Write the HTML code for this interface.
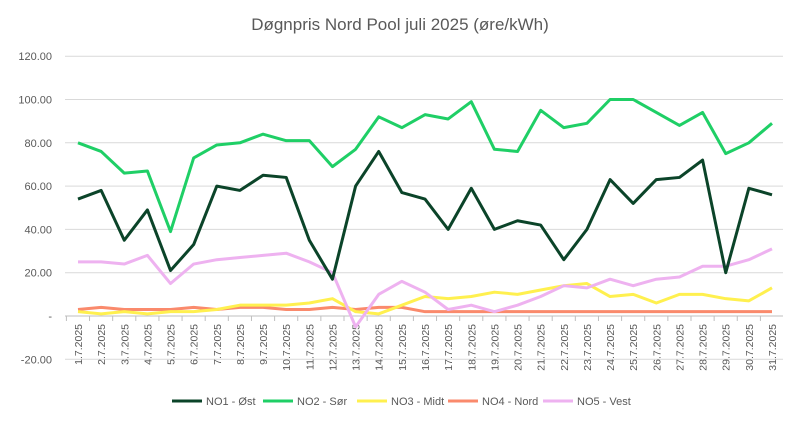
<!DOCTYPE html>
<html><head><meta charset="utf-8"><style>
body{margin:0;background:#fff;font-family:"Liberation Sans",sans-serif;}
</style></head><body>
<svg id="c" width="800" height="423" xmlns="http://www.w3.org/2000/svg"></svg>
<script>
const categories=[];for(let d=1;d<=31;d++)categories.push(d+'.7.2025');
const no1=[54,58,35,49,21,33,60,58,65,64,35,17,60,76,57,54,40,59,40,44,42,26,40,63,52,63,64,72,20,59,56];
const no2=[80,76,66,67,39,73,79,80,84,81,81,69,77,92,87,93,91,99,77,76,95,87,89,100,100,94,88,94,75,80,89];
const no3=[2,1,2,1,2,2,3,5,5,5,6,8,2,1,5,9,8,9,11,10,12,14,15,9,10,6,10,10,8,7,13];
const no4=[3,4,3,3,3,4,3,4,4,3,3,4,3,4,4,2,2,2,2,2,2,2,2,2,2,2,2,2,2,2,2];
const no5=[25,25,24,28,15,24,26,27,28,29,25,20,-5,10,16,11,3,5,2,5,9,14,13,17,14,17,18,23,23,26,31];
const yTicks=[-20,0,20,40,60,80,100,120];
const seriesNames=['NO1 - Øst','NO2 - Sør','NO3 - Midt','NO4 - Nord','NO5 - Vest'];
const colors=['#0b4429','#1fcf66','#fff04f','#fa8a6c','#eeb2f0'];
const S='http://www.w3.org/2000/svg',svg=document.getElementById('c');
const L=65,R=783,x0=78,x1=772;
const y=v=>316-v*2.165;
const x=i=>x0+i*(x1-x0)/(categories.length-1);
function el(t,a,p){const e=document.createElementNS(S,t);for(const k in a)e.setAttribute(k,a[k]);(p||svg).appendChild(e);return e;}
const title=el('text',{x:400,y:30,'text-anchor':'middle','font-size':17,fill:'#595959'});title.textContent='Døgnpris Nord Pool juli 2025 (øre/kWh)';

yTicks.forEach(v=>{
 const g=el('line',{x1:L,x2:R,y1:y(v),y2:y(v),stroke:v===0?'#bfbfbf':'#d9d9d9','stroke-width':1});
 
 const t=el('text',{x:52,y:y(v)+4,'text-anchor':'end','font-size':11,fill:'#595959'});
 t.textContent=v===0?'-':v.toFixed(2);
 
});
categories.forEach((c,i)=>{
 const tk=el('line',{x1:x(i)-11.6,x2:x(i)-11.6,y1:316,y2:321,stroke:'#bfbfbf'});
 
 const t=el('text',{x:0,y:0,'text-anchor':'end','font-size':10.5,fill:'#595959',transform:`translate(${x(i)+4},324) rotate(-90)`});
 t.textContent=c;
});
[no1,no2,no3,no4,no5].forEach((s,k)=>{});
const order=[3,2,4,0,1];const all=[no1,no2,no3,no4,no5];
order.forEach(k=>{
 const p=el('polyline',{points:all[k].map((v,i)=>x(i)+','+y(v)).join(' '),fill:'none',stroke:colors[k],'stroke-width':3,'stroke-linejoin':'round'});
 
});
const lx=[172,263,357,448,543];
seriesNames.forEach((n,k)=>{
 const g=el('g',{});
 el('line',{x1:lx[k],x2:lx[k]+30,y1:401,y2:401,stroke:colors[k],'stroke-width':3},g);
 const t=el('text',{x:lx[k]+34,y:405,'font-size':11,fill:'#595959'},g);t.textContent=n;
});
</script>
</body></html>
